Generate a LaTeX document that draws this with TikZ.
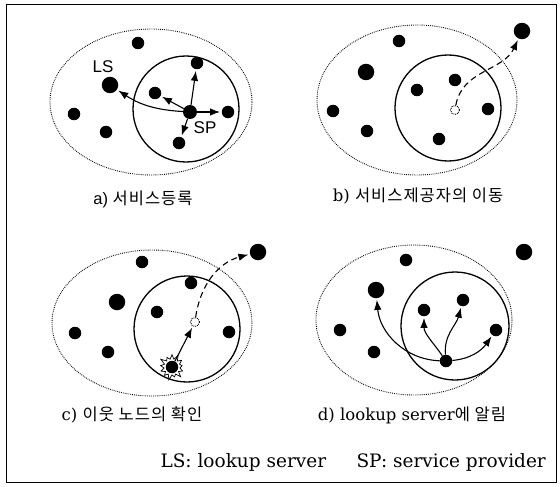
\documentclass[tikz,border=0pt]{standalone}
\usepackage{fontspec}
\setmainfont{DejaVu Serif}
\setsansfont{Liberation Sans}
\newfontfamily\krfont{Noto Sans CJK KR}[LetterSpace=6]
\usepackage{tikz}
\usetikzlibrary{arrows.meta, positioning, shapes.symbols}
\tikzset{
  nodedot/.style={circle, fill=black, inner sep=0pt, minimum size=12.5pt},
  bigdot/.style={nodedot, minimum size=16.5pt},
  zone/.style={dash pattern=on 0.8pt off 1.1pt, line width=0.9pt},
  reach/.style={line width=1.3pt},
  msg/.style={-{Latex[length=10pt,width=7.5pt]}, line width=1.1pt, shorten >=1.5pt},
  moveto/.style={msg, dash pattern=on 6pt off 4pt},
  ghost/.style={circle, densely dotted, draw, line width=0.9pt, inner sep=0pt, minimum size=9pt},
  captext/.style={font=\fontsize{16.5}{18}\selectfont},
  tagtext/.style={font=\sffamily\fontsize{17}{19}\selectfont, inner sep=0pt},
  keytext/.style={font=\fontsize{18.5}{20}\selectfont, inner sep=0pt}
}

\begin{document}
\begin{tikzpicture}[x=1pt, y=-1pt]
\useasboundingbox (0,0) rectangle (560,487);
\draw[line width=1pt] (6,5) rectangle (556,482);

% a) registration
\draw[zone] (151,102) ellipse [x radius=101, y radius=73];
\draw[reach] (186,109) circle [radius=53];
\node[nodedot] (a1) at (138,43) {};
\node[bigdot] (aLS) at (110,85) {};
\node[nodedot] (a2) at (155,93) {};
\node[nodedot] (a3) at (197,63) {};
\node[nodedot, minimum size=14pt] (aSP) at (190,112) {};
\node[nodedot] (a4) at (228,112) {};
\node[nodedot] (a5) at (179,143) {};
\node[nodedot] (a6) at (74,114) {};
\node[nodedot] (a7) at (106,132) {};
\node[tagtext] (aLStag) at (103,67) {LS};
\node[tagtext] (aSPtag) at (205,128) {SP};
\draw[msg] (aSP) to[bend left=15] (aLS);
\foreach \n in {a2,a3,a4,a5}
  \draw[msg] (aSP) -- (\n);
\node[captext] (capa) at (143,199) {\sffamily a) \krfont 서비스등록};

% b) provider moves
\draw[zone] (417,100) ellipse [x radius=100, y radius=75];
\draw[reach] (448,108) circle [radius=53];
\node[nodedot] (b1) at (399,41) {};
\node[bigdot] (bLS) at (366,72) {};
\node[nodedot] (b2) at (333,111) {};
\node[nodedot] (b3) at (367,131) {};
\node[nodedot] (b4) at (417,90) {};
\node[nodedot] (b5) at (455,80) {};
\node[nodedot] (b6) at (488,109) {};
\node[nodedot] (b7) at (439,139) {};
\node[bigdot] (bSP) at (522,31) {};
\node[ghost] (bOld) at (455,110) {};
\draw[moveto] (bOld) to[out=80, in=-115] (bSP);
\node[captext] (capb) at (418,196) {b) \krfont 서비스제공자의 이동};

% c) neighbour check
\draw[zone] (152,323) ellipse [x radius=100, y radius=73];
\draw[reach] (187,329) circle [radius=53];
\node[nodedot] (c1) at (142,262) {};
\node[bigdot] (cLS) at (117,302) {};
\node[nodedot] (c2) at (157,312) {};
\node[nodedot] (c3) at (191,283) {};
\node[nodedot] (c4) at (75,333) {};
\node[nodedot] (c5) at (108,352) {};
\node[nodedot] (c6) at (229,332) {};
\node[starburst, starburst points=13, starburst point height=6pt, draw, fill=white,
      line width=0.7pt, minimum size=28pt, inner sep=0pt] (cBurst) at (172,367) {};
\node[nodedot] (cNb) at (172,367) {};
\node[bigdot] (cSP) at (258,252) {};
\node[ghost] (cOld) at (195,322) {};
\draw[msg] (cNb) -- (cOld);
\draw[moveto] (cOld) to[out=82, in=195] (cSP);
\node[captext] (capc) at (132,415) {c) \krfont 이웃 노드의 확인};

% d) notify lookup server
\draw[zone] (414,320) ellipse [x radius=98, y radius=75];
\draw[reach] (455,326) circle [radius=54];
\node[nodedot] (d1) at (406,260) {};
\node[bigdot] (dLS) at (376,290) {};
\node[nodedot] (d2) at (424,310) {};
\node[nodedot] (d3) at (463,300) {};
\node[nodedot] (d4) at (340,330) {};
\node[nodedot] (d5) at (374,352) {};
\node[nodedot] (d6) at (496,330) {};
\node[nodedot] (dSP) at (446,361) {};
\node[bigdot] (dOut) at (524,252) {};
\draw[msg] (dSP) to[out=178, in=-85] (dLS);
\draw[msg] (dSP) to[out=125, in=-90] (d2);
\draw[msg] (dSP) to[out=95, in=-105] (d3);
\draw[msg] (dSP) to[out=5, in=-125] (d6);
\node[captext] (capd) at (412,415) {d) lookup server\krfont 에 알림};

\node[keytext, anchor=east] (spKey) at (546,462) {SP: service provider};
\node[keytext, left=30pt of spKey] (lsKey) {LS: lookup server};
\end{tikzpicture}
\end{document}
